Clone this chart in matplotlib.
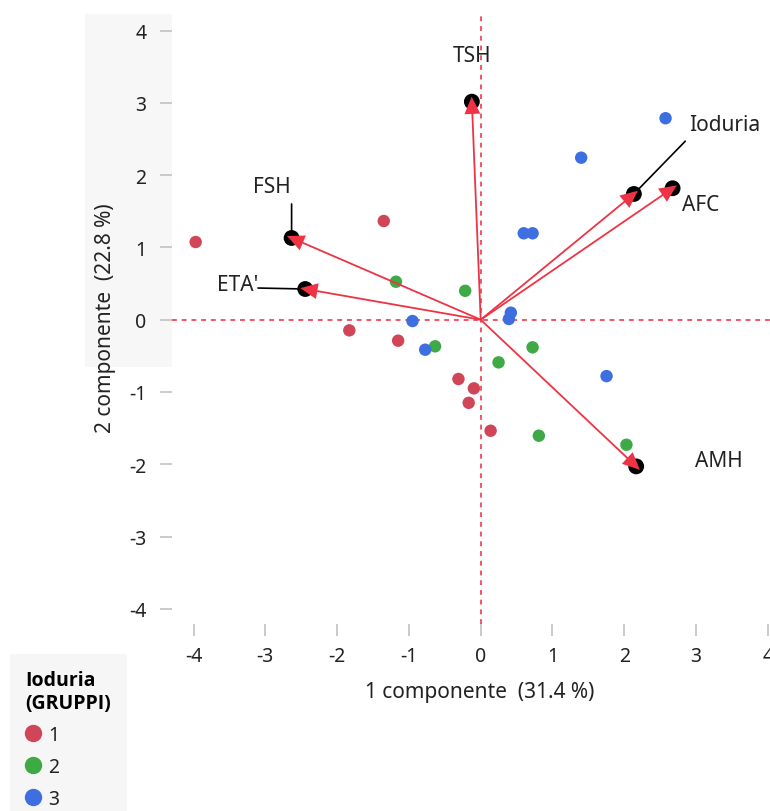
import matplotlib
matplotlib.use("Agg")
import matplotlib.pyplot as plt
import numpy as np
from matplotlib.lines import Line2D
from matplotlib.patches import Rectangle

plt.rcParams['font.family'] = ['Noto Sans', 'DejaVu Sans']

# ---- data ----
grp1_x = [-3.97, -1.35, -1.83, -1.15, -0.31, -0.095, -0.167, 0.138]
grp1_y = [1.075, 1.366, -0.147, -0.29, -0.82, -0.95, -1.15, -1.536]
grp2_x = [-1.18, -0.216, -0.635, 0.723, 0.249, 0.81, 2.03]
grp2_y = [0.526, 0.40, -0.368, -0.382, -0.59, -1.605, -1.73]
grp3_x = [-0.95, -0.773, 0.42, 0.393, 1.753, 2.575, 1.40, 0.60, 0.723]
grp3_y = [-0.018, -0.415, 0.097, 0.01, -0.78, 2.788, 2.242, 1.196, 1.196]
groups = ['1', '2', '3']

var_names = ['TSH', 'Ioduria', 'AFC', 'AMH', 'FSH', "ETA'"]
var_x = [-0.123, 2.134, 2.673, 2.166, -2.634, -2.444]
var_y = [3.017, 1.74, 1.819, -2.029, 1.131, 0.425]

xticks = [-4, -3, -2, -1, 0, 1, 2, 3, 4]
yticks = [-4, -3, -2, -1, 0, 1, 2, 3, 4]
xlabel = '1 componente  (31.4 %)'
ylabel = '2 componente  (22.8 %)'

# ---- styles ----
col_pts = ['#D04557', '#3DAA45', '#3D6FE0']
col_arrow = '#EE3344'
col_zero = '#F0566A'
col_tick = '#BDBDBD'
tip_overshoot = 0.07   # arrow tip passes a little beyond the loading marker centre

# label placement (offset points from the vector end), leader start offsets
label_style = {
    'TSH':     dict(off=(0, 33), ha='center', lead=None),
    'Ioduria': dict(off=(40, 50), ha='left', lead=(37, 38)),
    'AFC':     dict(off=(7, -12), ha='left', lead=None),
    'AMH':     dict(off=(42, 4), ha='left', lead=None),
    'FSH':     dict(off=(-14, 37), ha='center', lead=(0, 24.5)),
    "ETA'":    dict(off=(-34, 3), ha='right', lead=(-34, 0.7)),
}

W, H = 770, 812
fig = plt.figure(figsize=(W / 100, H / 100), dpi=100)
fig.patch.set_facecolor('white')

# grey highlight behind y axis
fig.patches.append(Rectangle((85 / W, 1 - 368 / H), (172 - 85) / W, (368 - 15) / H,
                             transform=fig.transFigure, facecolor='#F7F7F7',
                             edgecolor='none', zorder=-5))

ax = fig.add_axes([172 / W, 1 - 625 / H, (770 - 172) / W, (625 - 15) / H])
ax.set_zorder(2)
ax.set_facecolor('none')
ax.set_xlim(-4.30, 4.03)
ax.set_ylim(-4.21, 4.23)
for s in ax.spines.values():
    s.set_visible(False)

ax.axhline(0, color=col_zero, lw=1.4, ls=(0, (2.5, 2.5)), zorder=1)
ax.axvline(0, color=col_zero, lw=1.4, ls=(0, (2.5, 2.5)), zorder=1)

for gx, gy, c in zip([grp1_x, grp2_x, grp3_x], [grp1_y, grp2_y, grp3_y], col_pts):
    ax.scatter(gx, gy, s=80, color=c, edgecolors='none', zorder=3)

ax.scatter(var_x, var_y, s=130, color='black', edgecolors='none', zorder=4)

for name, vx, vy in zip(var_names, var_x, var_y):
    L = np.hypot(vx, vy)
    f = (L + tip_overshoot) / L
    ax.arrow(0, 0, vx * f, vy * f, width=0.025, head_width=0.22, head_length=0.24,
             length_includes_head=True, color=col_arrow, lw=0, zorder=5)
    st = label_style[name]
    ax.annotate(name, xy=(vx, vy), xytext=st['off'], textcoords='offset points',
                ha=st['ha'], va='center', fontsize=15, color='#222222', zorder=6)
    if st['lead'] is not None:
        ax.annotate('', xy=(vx, vy), xytext=st['lead'], textcoords='offset points',
                    arrowprops=dict(arrowstyle='-', color='black', lw=1.2,
                                    shrinkA=0, shrinkB=4),
                    zorder=6)

ax.set_xticks(xticks)
ax.set_yticks(yticks)
ax.set_xticklabels([str(t) for t in xticks])
ax.set_yticklabels([str(t) for t in yticks])
ax.tick_params(axis='both', direction='out', length=8.5, width=1.1, color=col_tick,
               labelsize=14, labelcolor='#222222')
ax.tick_params(axis='x', pad=7)
ax.tick_params(axis='y', pad=10)
for t in ax.xaxis.get_major_ticks():
    if t.get_loc() == 0:
        t.tick1line.set_color(col_arrow)
for t in ax.yaxis.get_major_ticks():
    if t.get_loc() == 0:
        t.tick1line.set_color(col_arrow)

ax.set_xlabel(xlabel, fontsize=15, color='#222222', va='center')
ax.xaxis.set_label_coords(0.514, -0.11)
ax.set_ylabel(ylabel, fontsize=15, color='#222222', va='center')
ax.yaxis.set_label_coords(-0.112, 0.503)

handles = [Line2D([], [], marker='o', ls='', color=c, markersize=11.5) for c in col_pts]
leg = fig.legend(handles, groups, title='Ioduria\n(GRUPPI)', loc='upper left',
                 bbox_to_anchor=(10 / W, 1 - 655 / H), borderaxespad=0, frameon=True,
                 facecolor='#F6F6F6', edgecolor='none', fancybox=False, framealpha=1,
                 alignment='left', fontsize=14, handlelength=0.8, handletextpad=0.35,
                 borderpad=0.8, labelspacing=0.62,
                 title_fontproperties={'family': ['Open Sans', 'DejaVu Sans'],
                                       'weight': 'bold', 'size': 14})
for t in leg.get_texts():
    t.set_color('#222222')

fig.savefig('out.png', dpi=100)
